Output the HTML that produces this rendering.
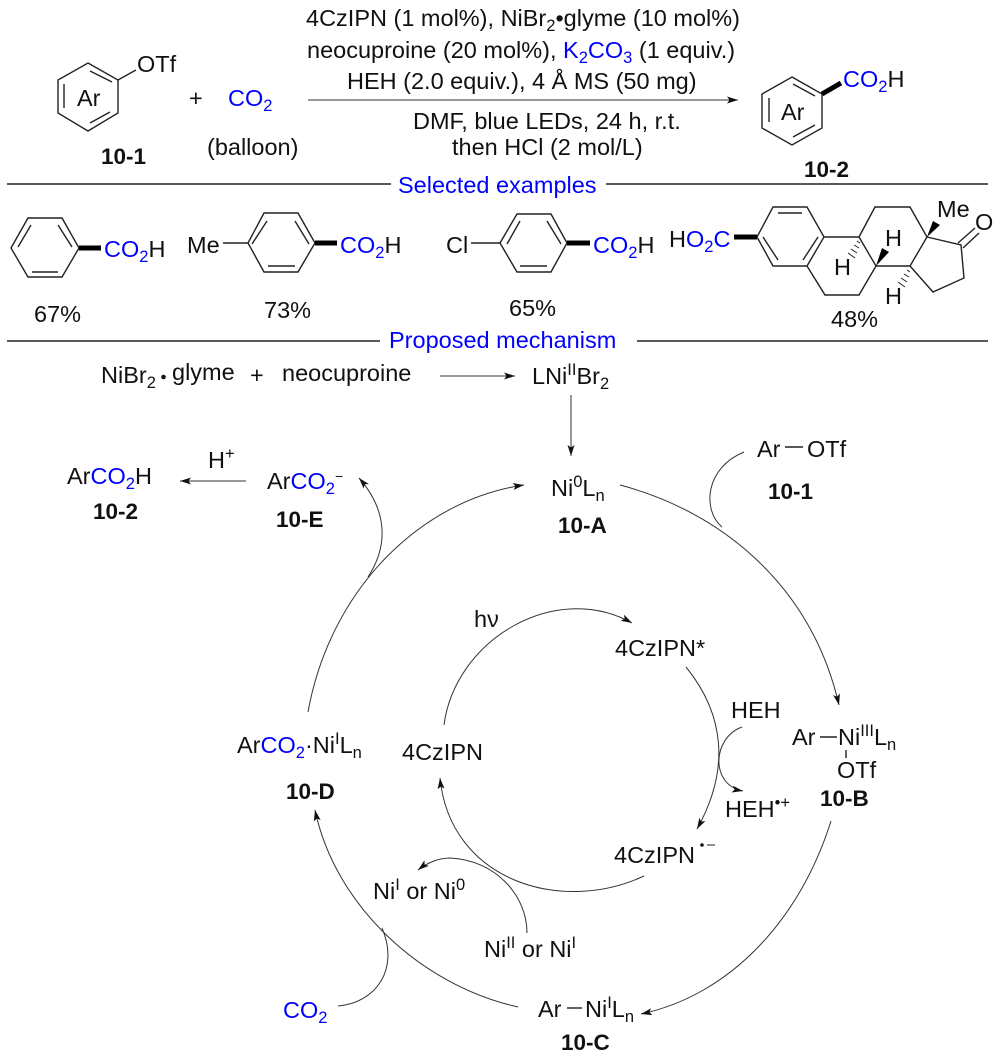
<!DOCTYPE html>
<html><head><meta charset="utf-8"><style>
html,body{margin:0;padding:0;background:#fff}
svg{display:block;filter:blur(0.35px)}
text{font-family:"Liberation Sans",sans-serif;font-size:23.5px;fill:#111}
.b{fill:#0000ff}
text.h{font-weight:bold;font-size:22.5px}
path,line,polyline,polygon.o{fill:none;stroke:#222;stroke-width:1.4}
.a{stroke:#333;stroke-width:1;marker-end:url(#m)}
.n{stroke:#333;stroke-width:1}
.w{stroke:#000;stroke-width:5}
</style></head><body>
<svg width="1000" height="1063" viewBox="0 0 1000 1063" xmlns="http://www.w3.org/2000/svg">
<defs><marker id="m" markerUnits="userSpaceOnUse" markerWidth="12" markerHeight="8" refX="11" refY="3.5" orient="auto"><path d="M0 0L11 3.5L0 7L2.5 3.5Z" style="fill:#111;stroke:none"/></marker></defs>

<!-- top reaction -->
<polygon class="o" points="88,63 118,80 118,113 88,131 58,113 58,80"/>
<line x1="64" y1="84" x2="64" y2="108"/><line x1="90" y1="71" x2="112" y2="82"/><line x1="90" y1="123" x2="110" y2="112"/><line x1="118" y1="80" x2="136" y2="70"/>
<text x="137" y="72">OTf</text><text x="77" y="106">Ar</text>
<text x="189" y="106">+</text>
<text x="228" y="106" class="b">CO<tspan dy="5" font-size="16.5">2</tspan></text>
<text x="207" y="155">(balloon)</text>
<text x="101" y="164" class="h">10-1</text>

<text x="306" y="26">4CzIPN (1 mol%), NiBr<tspan dy="5" font-size="16.5">2</tspan><tspan dy="-5">•glyme (10 mol%)</tspan></text>
<text x="307" y="58">neocuproine (20 mol%), <tspan class="b">K<tspan dy="5" font-size="16.5">2</tspan><tspan dy="-5">CO</tspan><tspan dy="5" font-size="16.5">3</tspan></tspan><tspan dy="-5"> (1 equiv.)</tspan></text>
<text x="347" y="89">HEH (2.0 equiv.), 4 Å MS (50 mg)</text>
<line class="a" x1="308" y1="100" x2="738" y2="100"/>
<text x="413" y="129">DMF, blue LEDs, 24 h, r.t.</text>
<text x="452" y="155">then HCl (2 mol/L)</text>

<polygon class="o" points="792,77 822,94 822,128 792,145 762,128 762,94"/>
<line x1="769" y1="98" x2="769" y2="122"/><line x1="793" y1="84" x2="815" y2="96"/><line x1="793" y1="137" x2="815" y2="125"/>
<line class="w" x1="822" y1="94" x2="841" y2="83"/>
<text x="843" y="87"><tspan class="b">CO<tspan dy="5" font-size="16.5">2</tspan></tspan><tspan dy="-5">H</tspan></text>
<text x="781" y="120">Ar</text>
<text x="804" y="177" class="h">10-2</text>

<!-- separators -->
<line x1="7" y1="184" x2="391" y2="184"/><line x1="606" y1="184" x2="988" y2="184"/>
<text x="398" y="193" class="b">Selected examples</text>
<line x1="7" y1="341" x2="380" y2="341"/><line x1="637" y1="341" x2="988" y2="341"/>
<text x="389" y="348" class="b">Proposed mechanism</text>

<!-- examples -->
<polygon class="o" points="11,248 28,218 62,218 79,248 62,277 28,277"/>
<line x1="18" y1="247" x2="31" y2="225"/><line x1="58" y1="225" x2="72" y2="247"/><line x1="32" y1="272" x2="58" y2="272"/>
<line class="w" x1="79" y1="248" x2="101" y2="248"/>
<text x="104" y="257"><tspan class="b">CO<tspan dy="5" font-size="16.5">2</tspan></tspan><tspan dy="-5">H</tspan></text>
<text x="34" y="322">67%</text>

<text x="187" y="253">Me</text><line x1="223" y1="243" x2="248" y2="243"/>
<polygon class="o" points="248,243 264,213 298,213 315,243 298,272 264,272"/>
<line x1="252" y1="244" x2="267" y2="221"/><line x1="295" y1="221" x2="309" y2="244"/><line x1="268" y1="266" x2="295" y2="266"/>
<line class="w" x1="315" y1="243" x2="337" y2="243"/>
<text x="340" y="253"><tspan class="b">CO<tspan dy="5" font-size="16.5">2</tspan></tspan><tspan dy="-5">H</tspan></text>
<text x="264" y="318">73%</text>

<text x="446" y="253">Cl</text><line x1="471" y1="243" x2="500" y2="243"/>
<polygon class="o" points="500,243 517,214 551,214 567,243 551,272 517,272"/>
<line x1="507" y1="244" x2="520" y2="221"/><line x1="547" y1="221" x2="561" y2="244"/><line x1="520" y1="266" x2="547" y2="266"/>
<line class="w" x1="567" y1="243" x2="590" y2="243"/>
<text x="593" y="253"><tspan class="b">CO<tspan dy="5" font-size="16.5">2</tspan></tspan><tspan dy="-5">H</tspan></text>
<text x="509" y="316">65%</text>

<!-- steroid -->
<text x="669" y="247">H<tspan class="b">O<tspan dy="5" font-size="16.5">2</tspan><tspan dy="-5">C</tspan></tspan></text>
<line class="w" x1="734" y1="237" x2="757" y2="237"/>
<polygon class="o" points="757,237 773,207 807,207 824,237 807,266 773,266"/>
<line x1="778" y1="213" x2="802" y2="213"/><line x1="763" y1="237" x2="778" y2="260"/><line x1="818" y1="237" x2="803" y2="260"/>
<polyline points="824,237 859,237 876,266 859,295 825,295 807,266" style="fill:none"/>
<polyline points="859,237 875,207 910,207 927,237 910,266 876,266" style="fill:none"/>
<polyline points="927,237 961,245 964,278 933,292 910,266" style="fill:none"/>
<line x1="958" y1="243" x2="975" y2="228"/><line x1="963" y1="248" x2="979" y2="233"/>
<text x="975" y="230">O</text>
<text x="937" y="217">Me</text>
<polygon points="927,237 933,221 940,225" fill="#000"/>
<polygon points="876,266 882,248 889,252" fill="#000"/>
<text x="885" y="246">H</text>
<path d="M857 241l3 2M854 245l5 3M851 249l6 4M848 253l7 5" style="stroke-width:1"/>
<text x="834" y="275">H</text>
<path d="M907 270l3 2M904 274l5 3M901 278l6 4M898 282l7 5" style="stroke-width:1"/>
<text x="885" y="304">H</text>
<text x="831" y="327">48%</text>

<!-- mechanism top -->
<text x="101" y="383">NiBr<tspan dy="5" font-size="16.5">2</tspan></text>
<circle cx="163.500" cy="377" r="2.300" fill="#111"/>
<text x="172" y="380">glyme</text>
<text x="250" y="383">+</text>
<text x="282" y="381">neocuproine</text>
<line class="a" x1="440" y1="376" x2="515" y2="376"/>
<text x="532" y="384">LNi<tspan dy="-9" font-size="16.5">II</tspan><tspan dy="9">Br</tspan><tspan dy="5" font-size="16.5">2</tspan></text>
<line class="a" x1="571" y1="395" x2="571" y2="456"/>
<text x="551" y="496">Ni<tspan dy="-9" font-size="16.5">0</tspan><tspan dy="9">L</tspan><tspan dy="5" font-size="16.5">n</tspan></text>
<text x="558" y="533" class="h">10-A</text>

<text x="67" y="484">Ar<tspan class="b">CO<tspan dy="5" font-size="16.5">2</tspan></tspan><tspan dy="-5">H</tspan></text>
<text x="93" y="519" class="h">10-2</text>
<line class="a" x1="246" y1="481" x2="180" y2="481"/>
<text x="208" y="468">H<tspan dy="-9" font-size="16.5">+</tspan></text>
<text x="267" y="489">Ar<tspan class="b">CO<tspan dy="5" font-size="16.5">2</tspan></tspan><tspan dy="-13" font-size="14">−</tspan></text>
<text x="276" y="527" class="h">10-E</text>
<path class="a" d="M368 577 C389 545 387 510 359 478"/>

<text x="757" y="457">Ar</text><line x1="785" y1="447" x2="803" y2="447"/><text x="807" y="457">OTf</text>
<text x="768" y="499" class="h">10-1</text>
<path class="n" d="M744 452 C705 468 702 510 722 527"/>

<!-- big cycle -->
<path class="a" d="M620 485 C715 510 810 580 839 705"/>
<path class="a" d="M831 821 C800 920 730 995 641 1014"/>
<path class="a" d="M518 1007 C420 985 335 905 315 810"/>
<path class="a" d="M308 712 C330 590 420 500 524 485"/>

<!-- inner cycle -->
<path class="a" d="M444 725 C455 640 555 580 632 623"/>
<path class="a" d="M686 667 C725 715 730 770 697 829"/>
<path class="a" d="M644 876 C560 915 450 880 440 778"/>
<path class="a" d="M742 727 C712 738 710 785 743 791"/>

<text x="474" y="627">hν</text>
<text x="615" y="656">4CzIPN*</text>
<text x="731" y="718">HEH</text>
<text x="725" y="817">HEH<tspan dy="-9" font-size="16.5">•+</tspan></text>
<text x="614" y="863">4CzIPN</text>
<circle cx="702" cy="845" r="1.800" fill="#111"/><line x1="707" y1="845" x2="715" y2="845" style="stroke-width:1"/>
<text x="402" y="760">4CzIPN</text>

<text x="792" y="745">Ar</text><line x1="820" y1="737" x2="837" y2="737"/>
<text x="838" y="745">Ni<tspan dy="-9" font-size="16.5">III</tspan><tspan dy="9">L</tspan><tspan dy="5" font-size="16.5">n</tspan></text>
<line x1="846" y1="750" x2="846" y2="758"/>
<text x="837" y="778">OTf</text>
<text x="820" y="806" class="h">10-B</text>

<text x="237" y="753">Ar<tspan class="b">CO<tspan dy="5" font-size="16.5">2</tspan></tspan><tspan dy="-5">·Ni</tspan><tspan dy="-9" font-size="16.5">I</tspan><tspan dy="9">L</tspan><tspan dy="5" font-size="16.5">n</tspan></text>
<text x="286" y="799" class="h">10-D</text>

<text x="373" y="899">Ni<tspan dy="-9" font-size="16.5">I</tspan><tspan dy="9"> or Ni</tspan><tspan dy="-9" font-size="16.5">0</tspan></text>
<path class="a" d="M527 933 C527 895 495 860 450 858 C440 858 428 862 418 870"/>
<text x="484" y="957">Ni<tspan dy="-9" font-size="16.5">II</tspan><tspan dy="9"> or Ni</tspan><tspan dy="-9" font-size="16.5">I</tspan></text>

<text x="283" y="1018" class="b">CO<tspan dy="5" font-size="16.5">2</tspan></text>
<path class="n" d="M338 1006 C375 1003 400 970 382 928"/>
<text x="538" y="1017">Ar</text><line x1="567" y1="1008" x2="582" y2="1008"/>
<text x="585" y="1017">Ni<tspan dy="-9" font-size="16.5">I</tspan><tspan dy="9">L</tspan><tspan dy="5" font-size="16.5">n</tspan></text>
<text x="561" y="1050" class="h">10-C</text>
</svg>
</body></html>
